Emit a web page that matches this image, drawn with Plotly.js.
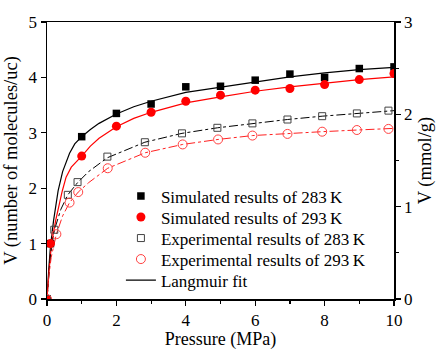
<!DOCTYPE html>
<html>
<head>
<meta charset="utf-8">
<script src="https://cdn.plot.ly/plotly-3.0.1.min.js"></script>
<style>
html,body{margin:0;padding:0;background:#fff;}
#chart{width:436px;height:350px;}
</style>
</head>
<body>
<div id="chart"></div>
<script>
// Simulated results (molecules/uc)
const simX = [0, 0.1, 1, 2, 3, 4, 5, 6, 7, 8, 9, 10];
const sim283 = [0, 1.0, 2.93, 3.35, 3.52, 3.83, 3.84, 3.95, 4.06, 4.0, 4.16, 4.19];
const sim293 = [0, 1.0, 2.58, 3.12, 3.37, 3.57, 3.68, 3.77, 3.80, 3.87, 3.96, 4.07];

// Experimental results (plotted on left scale)
const exp283X = [0, 0.21, 0.6, 0.88, 1.74, 2.82, 3.89, 4.91, 5.92, 6.93, 7.93, 8.93, 9.84];
const exp283 = [0, 1.25, 1.88, 2.11, 2.57, 2.83, 2.99, 3.09, 3.17, 3.24, 3.30, 3.35, 3.40];
const exp293X = [0, 0.27, 0.65, 0.9, 1.75, 2.83, 3.91, 4.93, 5.92, 6.93, 7.93, 8.93, 9.84];
const exp293 = [0, 1.17, 1.74, 1.93, 2.36, 2.64, 2.79, 2.88, 2.95, 2.98, 3.02, 3.05, 3.07];

// Langmuir fit curves
const fitSim283X = [0, 0.02, 0.05, 0.1, 0.19, 0.32, 0.45, 0.65, 0.8, 1, 1.25, 1.5, 2, 2.5, 3, 4, 5, 6, 7, 8, 9, 10];
const fitSim283 = [0, 0.25, 0.53, 0.95, 1.42, 1.95, 2.3, 2.63, 2.8, 2.93, 3.06, 3.17, 3.34, 3.47, 3.57, 3.73, 3.82, 3.92, 4.01, 4.08, 4.14, 4.18];
const fitSim293X = [0, 0.02, 0.05, 0.13, 0.25, 0.44, 0.55, 0.7, 0.85, 1, 1.25, 1.5, 2, 2.5, 3, 4, 5, 6, 7, 8, 9, 10];
const fitSim293 = [0, 0.2, 0.45, 1.0, 1.42, 1.95, 2.2, 2.38, 2.49, 2.58, 2.76, 2.9, 3.11, 3.26, 3.37, 3.54, 3.65, 3.75, 3.83, 3.9, 3.96, 4.01];
const fitExp283X = [0, 0.05, 0.1, 0.21, 0.4, 0.6, 0.88, 1.2, 1.74, 2.82, 3.89, 4.91, 5.92, 6.93, 7.93, 8.93, 9.84, 10];
const fitExp283 = [0, 0.45, 0.8, 1.24, 1.62, 1.88, 2.1, 2.3, 2.55, 2.83, 2.99, 3.09, 3.17, 3.24, 3.30, 3.35, 3.39, 3.40];
const fitExp293X = [0, 0.05, 0.12, 0.27, 0.45, 0.65, 0.9, 1.2, 1.75, 2.83, 3.91, 4.93, 5.92, 6.93, 7.93, 8.93, 9.84, 10];
const fitExp293 = [0, 0.4, 0.75, 1.17, 1.5, 1.74, 1.93, 2.1, 2.36, 2.64, 2.79, 2.88, 2.95, 2.99, 3.02, 3.05, 3.07, 3.08];

const names = ["Simulated results of 283\u2009K", "Simulated results of 293\u2009K",
  "Experimental results of 283\u2009K", "Experimental results of 293\u2009K", "Langmuir fit"];

const serifFamily = "Liberation Serif";

const traces = [
  {x: fitSim283X, y: fitSim283, mode: "lines", line: {color: "#000", width: 1.2},
   name: names[4], legendrank: 5, hoverinfo: "skip"},
  {x: fitSim293X, y: fitSim293, mode: "lines", line: {color: "#ff0000", width: 1.2},
   showlegend: false, hoverinfo: "skip"},
  {x: fitExp283X, y: fitExp283, mode: "lines", line: {color: "#000", width: 1, dash: "dashdot"},
   showlegend: false, hoverinfo: "skip"},
  {x: fitExp293X, y: fitExp293, mode: "lines", line: {color: "#ff2020", width: 1, dash: "dashdot"},
   showlegend: false, hoverinfo: "skip"},
  {x: simX, y: sim283, mode: "markers", name: names[0], legendrank: 1,
   marker: {symbol: "square", size: 7.5, color: "#000"}},
  {x: simX, y: sim293, mode: "markers", name: names[1], legendrank: 2,
   marker: {symbol: "circle", size: 9, color: "#ff0000"}},
  {x: exp283X, y: exp283, mode: "markers", name: names[2], legendrank: 3,
   marker: {symbol: "square-open", size: 7, color: "#444", line: {width: 1}}},
  {x: exp293X, y: exp293, mode: "markers", name: names[3], legendrank: 4,
   marker: {symbol: "circle-open", size: 9, color: "#ff4040", line: {width: 1}}},
  {x: [0], y: [0], yaxis: "y2", mode: "markers", marker: {opacity: 0}, showlegend: false, hoverinfo: "skip"}
];

const layout = {
  width: 436, height: 350,
  margin: {l: 47, r: 42, t: 21.5, b: 50.5},
  paper_bgcolor: "#fff", plot_bgcolor: "#fff",
  font: {family: serifFamily, size: 17, color: "#000"},
  showlegend: true,
  legend: {x: 0.213, y: 0.435, xanchor: "left", yanchor: "top", bgcolor: "rgba(0,0,0,0)",
           font: {family: serifFamily, size: 17, color: "#000"}, tracegroupgap: 0, borderwidth: 0},
  xaxis: {range: [0, 10], dtick: 2, tick0: 0, showgrid: false, zeroline: false,
          showline: true, linecolor: "#000", linewidth: 1.5, mirror: true,
          ticks: "outside", ticklen: 5, tickwidth: 1.2, tickcolor: "#000",
          minor: {dtick: 1, ticks: "outside", ticklen: 3, tickcolor: "#000", showgrid: false},
          tickfont: {family: serifFamily, size: 17},
          title: {text: "Pressure (MPa)", font: {family: serifFamily, size: 18}, standoff: 2}},
  yaxis: {range: [0, 5], dtick: 1, tick0: 0, showgrid: false, zeroline: false,
          showline: true, linecolor: "#000", linewidth: 1.5,
          ticks: "outside", ticklen: 5, tickwidth: 1.2, tickcolor: "#000",
          tickfont: {family: serifFamily, size: 17},
          title: {text: "V (number of molecules/uc)", font: {family: serifFamily, size: 18.5}, standoff: 6}},
  yaxis2: {overlaying: "y", side: "right", anchor: "x", range: [0, 3], dtick: 1, tick0: 0,
           showgrid: false, zeroline: false, showline: true, linecolor: "#000", linewidth: 1.5,
           ticks: "outside", ticklen: 5, tickwidth: 1.2, tickcolor: "#000",
           minor: {dtick: 0.5, ticks: "outside", ticklen: 3, tickcolor: "#000", showgrid: false},
           tickfont: {family: serifFamily, size: 17},
           title: {text: "V (mmol/g)", font: {family: serifFamily, size: 18.5}, standoff: 6}}
};

function tightenLegend(gd) {
  // reduce legend row spacing to match the reference
  const items = gd.querySelectorAll("g.legend g.traces");
  const rowGap = 21;
  let first = null;
  items.forEach(function (el, i) {
    const t = el.getAttribute("transform") || "";
    const m = /translate\(\s*([-\d.eE]+)\s*[, ]\s*([-\d.eE]+)\s*\)/.exec(t);
    const tx = m ? parseFloat(m[1]) : 0;
    const ty = m ? parseFloat(m[2]) : 0;
    if (first === null) first = ty;
    el.setAttribute("transform", "translate(" + tx + "," + (first + i * rowGap) + ")");
  });
}

const gdiv = document.getElementById("chart");
Plotly.newPlot(gdiv, traces, layout, {displayModeBar: false, staticPlot: true}).then(function (gd) {
  tightenLegend(gd);
  gd.on("plotly_afterplot", function () { tightenLegend(gd); });
  setTimeout(function () { tightenLegend(gd); }, 30);
});
</script>
</body>
</html>
